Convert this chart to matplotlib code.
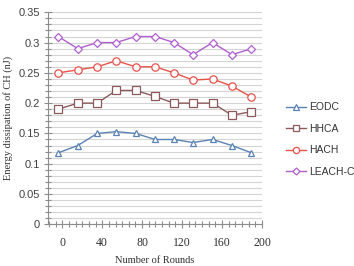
import matplotlib
matplotlib.use("Agg")
import matplotlib.pyplot as plt
from matplotlib.ticker import MultipleLocator

rounds = [-4, 15.5, 35, 54, 73.5, 93, 112, 131, 150.5, 170, 189.5]
eodc = [0.118, 0.13, 0.15, 0.153, 0.15, 0.14, 0.14, 0.135, 0.14, 0.13, 0.118]
hhca = [0.19, 0.2, 0.2, 0.221, 0.221, 0.211, 0.2, 0.2, 0.2, 0.18, 0.186]
hach = [0.25, 0.255, 0.26, 0.27, 0.26, 0.26, 0.25, 0.238, 0.24, 0.228, 0.21]
leach_c = [0.31, 0.29, 0.30, 0.30, 0.31, 0.31, 0.30, 0.28, 0.30, 0.28, 0.29]
series_names = ["EODC", "HHCA", "HACH", "LEACH-C"]
x_ticks = [0, 40, 80, 120, 160, 200]
y_ticks = [0, 0.05, 0.1, 0.15, 0.2, 0.25, 0.3, 0.35]

colors = ["#5b82b5", "#8c5a5a", "#e8514a", "#b05fd0"]
markers = ["^", "s", "o", "D"]
msizes = [5.0, 5.3, 5.3, 4.2]

fig = plt.figure(figsize=(3.54, 2.66), dpi=100)
ax = fig.add_axes([0.1364, 0.1568, 0.740 - 0.1364, 0.9538 - 0.1568])

for name, vals, c, m, ms in zip(series_names, [eodc, hhca, hach, leach_c], colors, markers, msizes):
    ax.plot(rounds, vals, color=c, lw=1.0, marker=m, ms=ms, mfc="white",
            mec=c, mew=0.9, label=name)

ax.set_xlim(-14, 200)
ax.set_ylim(0, 0.35)
ax.set_xticks(x_ticks)
ax.set_yticks(y_ticks)
ax.set_yticklabels(["0", "0.05", "0.1", "0.15", "0.2", "0.25", "0.3", "0.35"])
ax.xaxis.set_minor_locator(MultipleLocator(40 / 6))
ax.yaxis.set_minor_locator(MultipleLocator(0.01))
ax.grid(True, which="both", axis="y", color="#d4d4d4", lw=0.8)
ax.set_axisbelow(True)

for s in ["top", "right"]:
    ax.spines[s].set_visible(False)
for s in ["left", "bottom"]:
    ax.spines[s].set_color("#8c8c8c")
    ax.spines[s].set_linewidth(0.8)

ax.tick_params(axis="both", which="both", direction="inout", color="#8c8c8c", width=0.8)
ax.tick_params(axis="both", which="major", length=6)
ax.tick_params(axis="both", which="minor", length=5)
ax.tick_params(axis="y", which="major", labelsize=8, labelcolor="#404040", pad=3)
ax.tick_params(axis="x", which="major", labelsize=8.5, labelcolor="#303030", pad=6)
for lab in ax.get_yticklabels():
    lab.set_family("Liberation Sans")
for lab in ax.get_xticklabels():
    lab.set_family("Liberation Serif")

ax.set_xlabel("Number of Rounds", family="Liberation Serif", fontsize=7.5, color="#303030", labelpad=5)
ax.set_ylabel("Energy dissipation of CH (nJ)", family="Liberation Serif", fontsize=7.5, color="#303030", labelpad=4)

leg = ax.legend(loc="center left", bbox_to_anchor=(1.095, 0.40), frameon=False,
                prop={"family": "Liberation Sans", "size": 7.5},
                handlelength=1.9, handletextpad=0.32, labelspacing=1.1, borderaxespad=0,
                markerscale=0.85)
for t in leg.get_texts():
    t.set_color("#333333")

fig.savefig("out.png", dpi=100)
